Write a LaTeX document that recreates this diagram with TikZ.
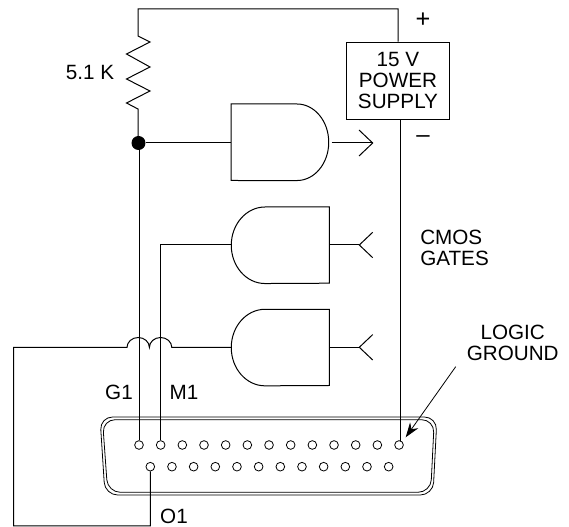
\documentclass[tikz,border=0pt]{standalone}
\usepackage{fontspec}
\setmainfont{Liberation Sans}
\usetikzlibrary{arrows.meta}
\tikzset{
    wire/.style={line width=0.75pt},
    lbl/.style={inner sep=0pt,align=center,font=\fontsize{15.5}{15.8}\selectfont},
    pin/.style={draw,circle,line width=0.6pt,inner sep=0pt,minimum size=6.5pt},
    dot/.style={fill,circle,inner sep=0pt,minimum size=10.5pt},
    shell/.style={line width=0.6pt,rounded corners=9.5pt}
}
\begin{document}
\begin{tikzpicture}[x=0.75pt,y=-0.75pt]
    \useasboundingbox (0,0) rectangle (569,527);

    \def\s{21.67}   %pin spacing
    \def\w{28.7pt}  %half height of a gate
    \def\b{7.5pt}   %height of a wire hop

    %CONNECTOR
    \draw[shell] (100,417)--(437,417)--(433,495)--(105,495)--cycle;
    \draw[shell] (102.5,419.7)--(434.3,419.7)--(430.7,492.3)--(107.7,492.3)--cycle;
    \foreach \i in {1,...,13}{
        \node[pin] (a\i) at ({139+(\i-1)*\s},445) {};
    }
    \foreach \i in {1,...,12}{
        \node[pin] (b\i) at ({150.3+(\i-1)*\s},466.7) {};
    }

    %POWER SUPPLY AND RESISTOR
    \node[draw,wire,lbl,minimum width=76.7pt,minimum height=58pt] (supply) at (398,80.7) {15 V\\POWER\\SUPPLY};
    \node[dot] (jn) at (138.5,143) {};
    \coordinate (rtop) at (138,9);
    \coordinate (rbot) at (138,109);
    \draw[wire] (supply.north) |- (rtop) -- (138,36) -- (150,42) -- (126.5,54) -- (150,67)
        -- (126.5,79) -- (150,91) -- (126.5,103) -- (rbot) -- (rbot |- jn);
    \draw[wire] (a1 |- jn) -- (a1);
    \coordinate (gnd) at (400,440.7);
    \draw[wire] (supply.south -| gnd) -- (gnd);

    %GATES
    \coordinate (g1in) at (231,143);
    \coordinate (g1out) at (331.7,143);
    \coordinate (g1tip) at (372.7,143);
    \draw[wire] (231,104) -- (297,104) arc[start angle=90,end angle=-90,x radius=23.8pt,y radius=\w]
        -- (231,180.5) -- cycle;
    \draw[wire] (jn) -- (g1in);
    \draw[wire] (g1out) -- (g1tip);
    \draw[wire] (359,130) -- (g1tip) -- (359,156);

    \foreach \n/\y in {2/245,3/347.3}{
        \coordinate (g\n in) at (231.3,\y);
        \coordinate (g\n out) at (329.3,\y);
        \coordinate (g\n fork) at (359.3,\y);
        \draw[wire] (329.3,\y-38) -- (265,\y-38) arc[start angle=90,end angle=270,x radius=25.3pt,y radius=\w]
            -- (329.3,\y+38.2) -- cycle;
        \draw[wire] (g\n out) -- (g\n fork);
        \draw[wire] (372.7,\y-12.7) -- (g\n fork) -- (372.7,\y+12.7);
    }

    %WIRES TO THE PINS
    \draw[wire] (g2in) -| (a2);
    \coordinate (o1a) at (150.3,526);
    \coordinate (o1b) at (13.7,526);
    \coordinate (o1c) at (13.7,347.5);
    \draw[wire] (b1) -- (o1a) -- (o1b) -- (o1c) -- (127,347.5)
        arc[start angle=180,end angle=0,x radius=8.4pt,y radius=\b]
        arc[start angle=180,end angle=0,x radius=8.4pt,y radius=\b] -- (g3in);

    %LABELS
    \node[lbl] (rlabel) at (90,72) {5.1 K};
    \node[lbl,font=\fontsize{19}{19}\selectfont] (plus) at (423,20.5) {+};
    \node[lbl,font=\fontsize{18}{18}\selectfont] (minus) at (423,139) {--};
    \node[lbl,align=left,anchor=west] (cmos) at (420,248) {CMOS\\GATES};
    \node[lbl] (logic) at (512.7,343) {LOGIC\\GROUND};
    \node[lbl] (g1label) at (119,392.7) {G1};
    \node[lbl] (m1label) at (184,392.7) {M1};
    \node[lbl] (o1label) at (174,516) {O1};

    \coordinate (gndtail) at (455.7,366.7);
    \coordinate (gndtip) at (405.7,437.3);
    \draw[line width=0.6pt,-{Stealth[length=11pt,width=7.5pt]}] (gndtail) -- (gndtip);
\end{tikzpicture}
\end{document}
